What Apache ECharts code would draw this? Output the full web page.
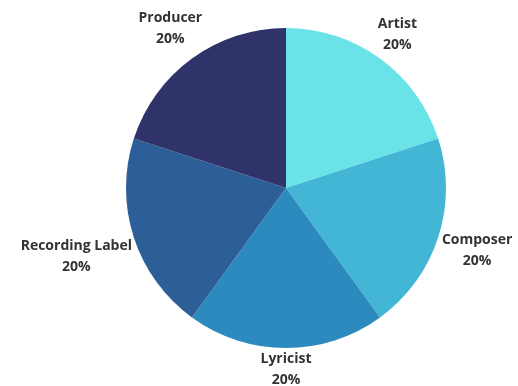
<!DOCTYPE html>
<html>
<head>
<meta charset="utf-8">
<script src="https://cdn.jsdelivr.net/npm/echarts@6/dist/echarts.min.js"></script>
<style>
	html, body { margin: 0; padding: 0; background: #fff; }
	#main { width: 518px; height: 386px; }
</style>
</head>
<body>
<div id="main"></div>
<script>
let categories = ['Artist', 'Composer', 'Lyricist', 'Recording Label', 'Producer']
let values = [20, 20, 20, 20, 20]
let color = ['#6ae3e8', '#43b6d6', '#2c8abf', '#2c5e98', '#30336a']

let cx = 286, cy = 188, r = 160, gap = 1

let total = values.reduce(function(a, b) { return a + b }, 0)

//每个扇区中心角度(从12点方向顺时针)
function midAngle(index) {
	let acc = 0
	for(let i = 0; i < index; i++) acc += values[i]
	return (acc + values[index] / 2) / total * Math.PI * 2
}

let data = categories.map(function(name, index) {
	return {
		name: name,
		value: values[index],
		itemStyle: {
			color: color[index]
		}
	}
})

var pie = echarts.init(document.getElementById('main'));
pie.setOption({
	animation: false,
	series: [{
		type: 'pie',
		center: [cx, cy],
		radius: r,
		startAngle: 90,
		clockwise: true,
		data: data,
		label: {
			show: true,
			position: 'outside',
			formatter: '{b}\n{d}%',
			color: '#333',
			fontFamily: 'Open Sans',
			fontWeight: 'bold',
			fontSize: 14,
			lineHeight: 21,
			align: 'center',
			overflow: 'none',
			edgeDistance: 0
		},
		labelLine: {
			show: false
		},
		labelLayout: function(params) {
			let a = midAngle(params.dataIndex)
			let ux = Math.sin(a), uy = -Math.cos(a)
			let w = params.labelRect.width, h = params.labelRect.height
			let d = r + gap + Math.abs(ux) * w / 2 + Math.abs(uy) * h / 2
			return {
				x: cx + ux * d,
				y: cy + uy * d,
				align: 'center',
				verticalAlign: 'middle'
			}
		}
	}]
})
</script>
</body>
</html>
